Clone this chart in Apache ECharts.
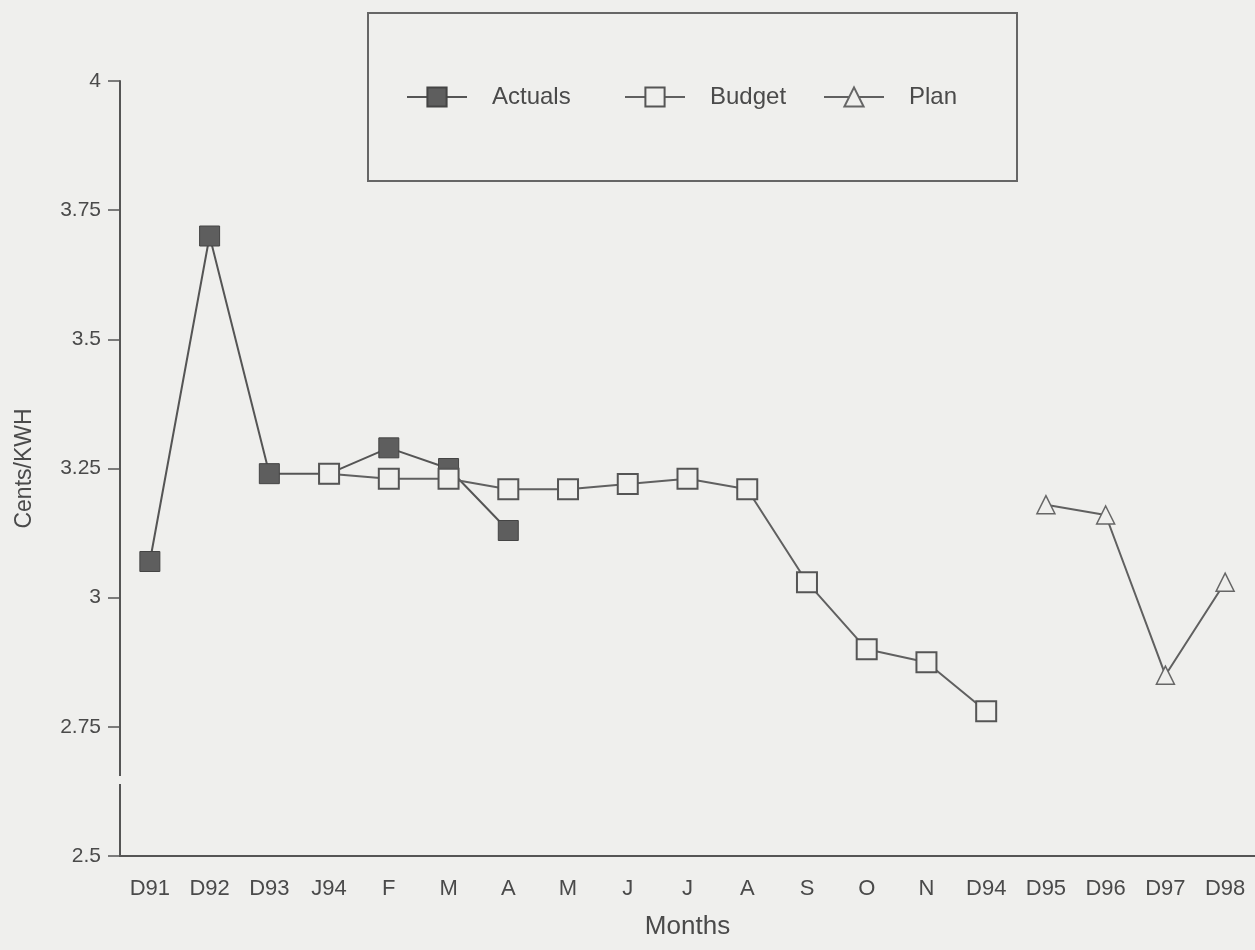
<!DOCTYPE html>
<html><head><meta charset="utf-8">
<script src="https://cdn.jsdelivr.net/npm/echarts@6/dist/echarts.min.js"></script>
<style>html,body{margin:0;padding:0;background:#efefed;}#c{width:1255px;height:950px;}</style>
</head><body><div id="c"></div>
<script>
const categories = ['D91','D92','D93','J94','F','M','A','M','J','J','A','S','O','N','D94','D95','D96','D97','D98'];
const actuals = [3.07,3.70,3.24,3.24,3.29,3.25,3.13,null,null,null,null,null,null,null,null,null,null,null,null];
const budget = [null,null,null,3.24,3.23,3.23,3.21,3.21,3.22,3.23,3.21,3.03,2.90,2.875,2.78,null,null,null,null];
const plan = [null,null,null,null,null,null,null,null,null,null,null,null,null,null,null,3.18,3.16,2.85,3.03];
const yTicks = {min: 2.5, max: 4, interval: 0.25};

const BG = '#efefed', INK = '#555', TXT = '#4a4a4a';
const font = 'Liberation Sans, Arial, sans-serif';
const legendText = {fontSize: 24, color: TXT, fontFamily: font, padding: [0,0,0,20]};
function mkLegend(name, left) {
  return {left: left, top: 80, itemWidth: 60, itemHeight: 24, textStyle: legendText, data: [name]};
}
const chart = echarts.init(document.getElementById('c'), null, {renderer: 'canvas'});
chart.setOption({
  backgroundColor: BG,
  animation: false,
  textStyle: {fontFamily: font},
  grid: {left: 120, width: 1140, top: 81, bottom: 94, containLabel: false},
  legend: [mkLegend('Actuals', 401), mkLegend('Budget', 619), mkLegend('Plan', 818)],
  graphic: [
    {type: 'rect', shape: {x: 368, y: 13, width: 649, height: 168}, style: {fill: 'none', stroke: '#666', lineWidth: 2}, z: 1},
    {type: 'rect', shape: {x: 114, y: 776, width: 12, height: 8}, style: {fill: BG}, z: 100}
  ],
  xAxis: {
    type: 'category', data: categories, boundaryGap: true,
    axisLine: {lineStyle: {color: INK, width: 2}},
    axisTick: {length: 14, lineStyle: {color: INK, width: 1.5}},
    axisLabel: {fontSize: 22, color: TXT, margin: 22, fontFamily: font},
    name: 'Months', nameLocation: 'middle', nameGap: 58,
    nameTextStyle: {fontSize: 26, color: TXT, fontFamily: font}
  },
  yAxis: {
    type: 'value', min: yTicks.min, max: yTicks.max, interval: yTicks.interval,
    splitLine: {show: false},
    axisLine: {show: true, lineStyle: {color: INK, width: 2}},
    axisTick: {show: true, length: 12, lineStyle: {color: INK, width: 1.5}},
    axisLabel: {fontSize: 21, color: TXT, margin: 19, fontFamily: font},
    name: 'Cents/KWH', nameLocation: 'middle', nameGap: 84,
    nameTextStyle: {fontSize: 23, color: TXT, fontFamily: font}
  },
  series: [
    {name: 'Actuals', type: 'line', data: actuals, symbol: 'rect', symbolSize: 20, z: 2,
     lineStyle: {color: '#555', width: 2}, itemStyle: {color: '#5e5e5e', borderColor: '#444', borderWidth: 1}},
    {name: 'Budget', type: 'line', data: budget, symbol: 'rect', symbolSize: 20, z: 3,
     lineStyle: {color: '#606060', width: 2}, itemStyle: {color: BG, borderColor: '#555', borderWidth: 2}},
    {name: 'Plan', type: 'line', data: plan, symbol: 'triangle', symbolSize: 18, z: 3,
     lineStyle: {color: '#606060', width: 2}, itemStyle: {color: BG, borderColor: '#666', borderWidth: 1.5}}
  ]
});
</script></body></html>
